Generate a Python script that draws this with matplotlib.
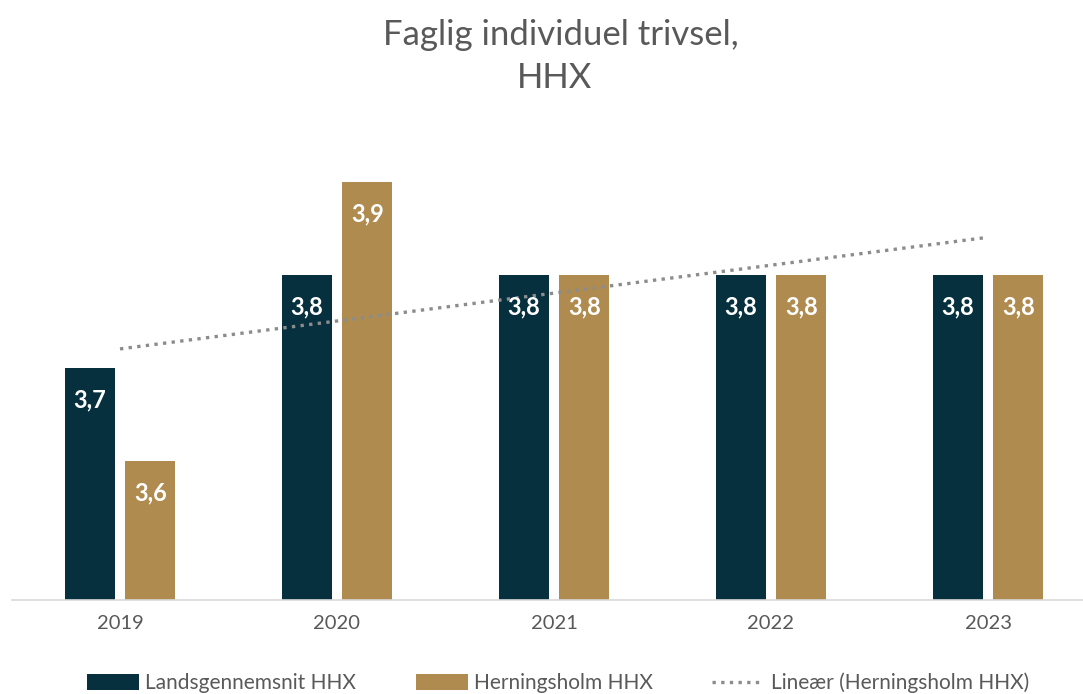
import numpy as np
import matplotlib.pyplot as plt

years = ["2019", "2020", "2021", "2022", "2023"]
lands = [3.7, 3.8, 3.8, 3.8, 3.8]
herning = [3.6, 3.9, 3.8, 3.8, 3.8]

dark = "#06303D"
gold = "#B08B4F"
grey = "#595959"

plt.rcParams['font.family'] = ['Lato', 'DejaVu Sans']

fig = plt.figure(figsize=(10.83, 6.94), dpi=100)
left = (120 - 0.5 * 217) / 1083
ax = fig.add_axes([left, 1 - 600 / 694, 1 - left, 470 / 694])

x = np.arange(len(years))
w = 0.23
off = 0.14
b1 = ax.bar(x - off, lands, w, color=dark, label="Landsgennemsnit HHX", zorder=2)
b2 = ax.bar(x + off, herning, w, color=gold, label="Herningsholm HHX", zorder=2)

# lineær trend for Herningsholm
k, m = np.polyfit(x, herning, 1)
tl, = ax.plot(x, k * x + m, linestyle=(0, (1, 1.6)), color="#8c8c8c", lw=2.4,
              label="Lineær (Herningsholm HHX)", zorder=3)

for bars in (b1, b2):
    for b in bars:
        ax.text(b.get_x() + b.get_width() / 2, b.get_height() - 0.035,
                f"{b.get_height():.1f}".replace(".", ","), ha="center", va="center",
                color="white", fontsize=17, fontweight="bold", zorder=4)

ax.set_ylim(3.45, 3.45 + 470 / 930)
ax.set_xlim(-0.5, (1083 - 120) / 217)
ax.set_xticks(x)
ax.set_xticklabels(years, fontsize=14.5, color=grey)
ax.tick_params(axis="x", length=0, pad=11)
ax.set_yticks([])
for s in ["top", "right", "left"]:
    ax.spines[s].set_visible(False)
ax.spines["bottom"].set_color("#d9d9d9")
ax.spines["bottom"].set_linewidth(1.2)

fig.text(561 / 1083, 1 - 35 / 694, "Faglig individuel trivsel,", ha="center", va="center",
         fontsize=25, color=grey)
fig.text(555 / 1083, 1 - 78 / 694, "HHX", ha="center", va="center",
         fontsize=25, color=grey)

fig.legend(handles=[b1, b2, tl], loc="center", bbox_to_anchor=(558 / 1083, 1 - 683 / 694),
           ncol=3, frameon=False, fontsize=15, labelcolor=grey, handlelength=2.5,
           handleheight=0.75, columnspacing=2.85, handletextpad=0.3)

fig.savefig("out.png", dpi=100)
